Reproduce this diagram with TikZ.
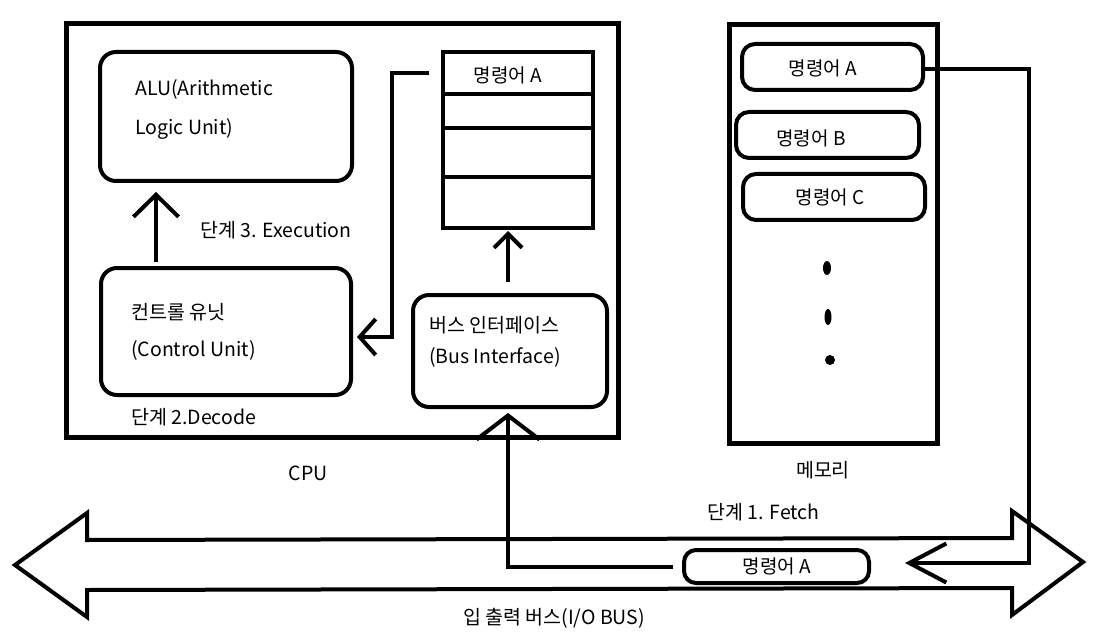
\documentclass[tikz,border=0pt]{standalone}
\usepackage{fontspec}
\setmainfont{Noto Sans CJK KR}
\usetikzlibrary{arrows.meta,calc}
\begin{document}
\begin{tikzpicture}[x=1pt,y=-1pt,
  frame/.style={draw,line width=5pt,inner sep=0pt,outer sep=0pt,anchor=north west},
  rbox/.style={draw,line width=4pt,rounded corners=16pt,inner sep=0pt,outer sep=0pt,anchor=north west},
  mbox/.style={draw,line width=4pt,rounded corners=13pt,inner sep=0pt,outer sep=0pt,anchor=north west},
  cell/.style={draw,line width=4pt,inner sep=0pt,outer sep=0pt,anchor=north west,minimum width=150pt},
  lbl/.style={inner sep=0pt,font=\fontsize{19.5}{22}\selectfont,anchor=west},
  slbl/.style={inner sep=0pt,font=\fontsize{19}{22}\selectfont},
  conn/.style={line width=4pt}
]
\useasboundingbox (0,0) rectangle (1099,636);
\fill[white] (0,0) rectangle (1099,636);

% CPU
\node[frame,minimum width=552pt,minimum height=413pt] (cpu) at (66,24) {};
\node[rbox,minimum width=252pt,minimum height=129pt] (alu) at (100,52) {};
\node[rbox,minimum width=250pt,minimum height=127pt] (cu) at (101,268) {};
\node[rbox,minimum width=194pt,minimum height=112pt] (bi) at (413,295) {};
\node[cell,minimum height=42pt] (r1) at (443,52) {};
\node[cell,minimum height=34pt] (r2) at (443,94) {};
\node[cell,minimum height=49pt] (r3) at (443,128) {};
\node[cell,minimum height=51pt] (r4) at (443,177) {};

\node[lbl] (alut1) at (135,89) {ALU(Arithmetic};
\node[lbl] (alut2) at (135,129) {Logic Unit)};
\node[lbl] (cut1) at (131,312) {컨트롤 유닛};
\node[lbl] (cut2) at (131,350) {(Control Unit)};
\node[lbl] (bit1) at (429,325) {버스 인터페이스};
\node[lbl] (bit2) at (429,357) {(Bus Interface)};
\node[slbl] (r1t) at (508,75) {명령어 A};
\node[lbl] (s3) at (200,230) {단계 3. Execution};
\node[lbl] (s2) at (131,417) {단계 2.Decode};
\node[lbl,anchor=center] (cpul) at (308,473) {CPU};

% Memory
\node[frame,minimum width=208pt,minimum height=418pt] (mem) at (729,25) {};
\node[mbox,minimum width=181pt,minimum height=46pt] (ma) at (742,44) {};
\node[mbox,minimum width=183pt,minimum height=46pt] (mb) at (736,112) {};
\node[mbox,minimum width=182pt,minimum height=46pt] (mc) at (743,174) {};
\node[slbl] (mat) at (823,68) {명령어 A};
\node[slbl] (mbt) at (811,138) {명령어 B};
\node[slbl] (mct) at (830,197) {명령어 C};
\fill (827,268) ellipse (4pt and 7pt);
\fill (828,317) ellipse (3.5pt and 8pt);
\fill (830,360) ellipse (5pt and 5pt);
\node[lbl,anchor=center] (meml) at (823,470) {메모리};

% Bus
\draw[line width=4pt] (15,565) -- (87,513) -- (87,540) -- (1012,538) -- (1012,511)
  -- (1083,562) -- (1012,615) -- (1012,588) -- (87,590) -- (87,617) -- cycle;
\node[mbox,rounded corners=12pt,minimum width=185pt,minimum height=33pt] (busa) at (684,550) {};
\node[slbl] (busat) at (777,566) {명령어 A};
\node[lbl] (s1) at (707,512) {단계 1. Fetch};
\node[lbl,anchor=center] (busl) at (554,618) {입 출력 버스(I/O BUS)};

% Connectors
\draw[conn,-{Straight Barb[length=22pt,width=45pt]}]
  ([xshift=-70pt,yshift=6pt]cu.north) -- ([xshift=-70pt,yshift=-11pt]alu.south);
\draw[conn,-{Straight Barb[length=14pt,width=28pt]}]
  ($(bi.north)+(-2,-13)$) -- ($(bi.north |- r4.south)+(-2,3)$);
\draw[conn,-{Straight Barb[length=16pt,width=36pt]}]
  ($(r1.west)+(-14,0)$) -- ++(-37,0) |- ($(cu.east)+(6,5.5)$);
\draw[conn,-{Straight Barb[length=24pt,width=63pt]}]
  ($(busa.west)+(-11,0)$) -| ($(bi.south)+(-2,6)$);
\draw[conn,-{Straight Barb[length=37pt,width=39pt]}]
  ($(ma.east)+(0,2)$) -- ++(106,0) |- ($(busa.east)+(36,-3.5)$);
\end{tikzpicture}
\end{document}
